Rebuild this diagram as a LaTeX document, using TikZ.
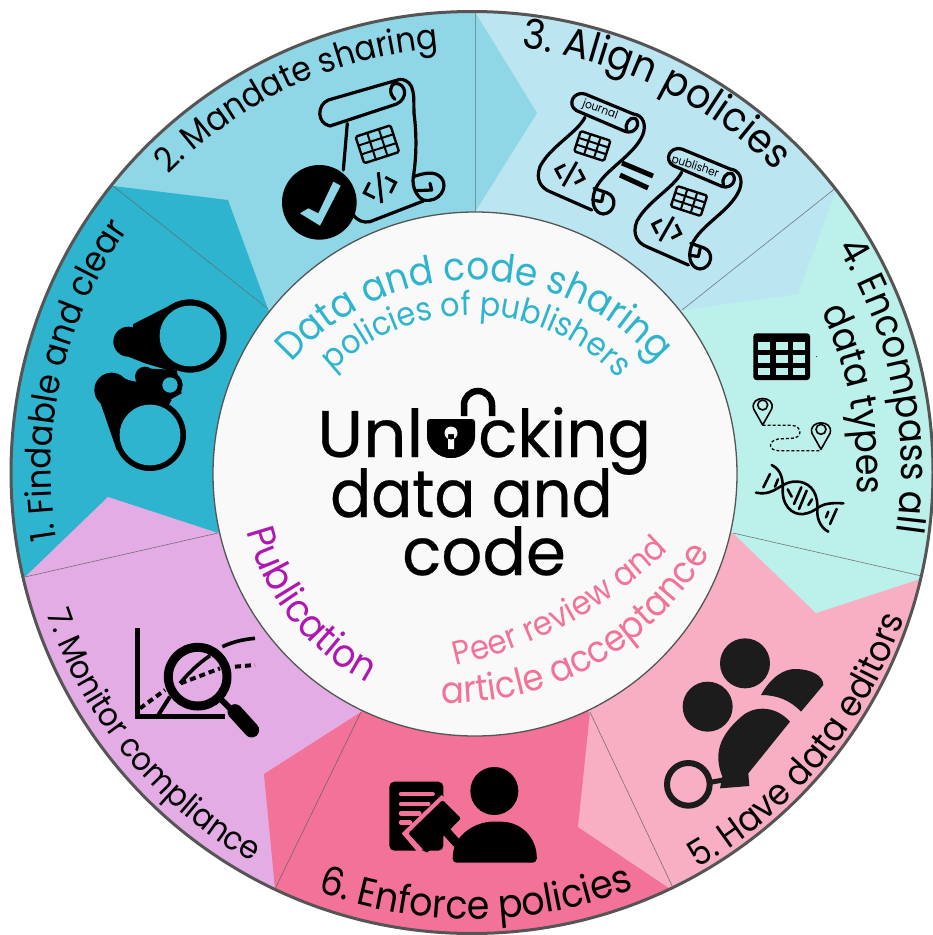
\documentclass[tikz,border=0pt]{standalone}
\usepackage{fontspec}
\usetikzlibrary{calc,decorations.text}
\newfontfamily\popf[FakeStretch=0.92]{Poppins}
\newfontfamily\poptitle[FakeStretch=0.92,FakeBold=0.4]{Poppins}
\definecolor{cA}{HTML}{2FB4CF}
\definecolor{cB}{HTML}{8FD6E6}
\definecolor{cC}{HTML}{BBE5F0}
\definecolor{cD}{HTML}{BCF0EA}
\definecolor{cE}{HTML}{F9AFC3}
\definecolor{cF}{HTML}{F27298}
\definecolor{cG}{HTML}{E4ACE4}
\definecolor{inner}{HTML}{F9F9F9}
\definecolor{rim}{HTML}{555555}
\definecolor{pub}{HTML}{AE17B0}
\definecolor{ink}{HTML}{1C1C1C}
\newcommand{\arctxt}[8]{\path[decorate,decoration={text along path,text align=center,text color=#7,
  text={|\fontsize{#6}{#6}\popf|#8}}]
  plot[domain=#4:#5,samples=90] ({#1+#3*cos(\x)},{#2+#3*sin(\x)});}
\tikzset{
 zm/.style 2 args={x=0.33333pt,y=-0.33333pt,shift={(#1pt,-#2pt)}},
 scroll/.style={line width=3.2pt,line cap=round,line join=round,draw=black},
 spoke/.style={draw=rim,line width=0.6pt,opacity=0.75},
 titletxt/.style={inner sep=0pt,anchor=base west,text=black,font=\fontsize{66}{66}\poptitle},
 fineline/.style={line width=1.6pt,draw=black},
}
\newcommand{\gridglyph}[2]{%
  \draw[line width=2.4pt,rounded corners=1.5pt,line join=round] (-#1,-#2) rectangle (#1,#2);
  \draw[line width=2pt] (-#1/3,-#2)--(-#1/3,#2) (#1/3,-#2)--(#1/3,#2) (-#1,-#2/3)--(#1,-#2/3) (-#1,#2/3)--(#1,#2/3);}
\newcommand{\codeglyph}{%
  \draw[line width=3pt,line cap=butt,line join=miter] (-13,-13)--(-26,0)--(-13,13) (13,-13)--(26,0)--(13,13) (5,-24)--(-5,24);}
\begin{document}
\begin{tikzpicture}[x=1pt,y=-1pt]
\useasboundingbox (0,0) rectangle (933,935);
\fill[white] (0,0) rectangle (933,935);
\coordinate (c) at (475,474);
\coordinate (a1) at (113,186); \coordinate (b1) at (268,309);
\coordinate (a2) at (475,12);  \coordinate (b2) at (475,212);
\coordinate (a3) at (837,187); \coordinate (b3) at (682,310);
\coordinate (a4) at (926,577); \coordinate (b4) at (733,533);
\coordinate (a5) at (675,892); \coordinate (b5) at (590,712);
\coordinate (a6) at (275,889); \coordinate (b6) at (361,712);
\coordinate (a7) at (25,577);  \coordinate (b7) at (218,533);
\begin{scope}
\clip (472,472.5) circle[radius=461];
\fill[cA] (c)--($(c)!1.3!(a7)$)--($(c)!1.3!(a1)$)--cycle;
\fill[cB] (c)--($(c)!1.3!(a1)$)--($(c)!1.3!(a2)$)--cycle;
\fill[cC] (c)--($(c)!1.3!(a2)$)--($(c)!1.3!(a3)$)--cycle;
\fill[cD] (c)--($(c)!1.3!(a3)$)--($(c)!1.3!(a4)$)--cycle;
\fill[cE] (c)--($(c)!1.3!(a4)$)--($(c)!1.3!(a5)$)--cycle;
\fill[cF] (c)--($(c)!1.3!(a5)$)--($(c)!1.3!(a6)$)--cycle;
\fill[cG] (c)--($(c)!1.3!(a6)$)--($(c)!1.3!(a7)$)--cycle;
\fill[cA] (a1)--(228,200)--(b1)--cycle;
\fill[cB] (a2)--(537,113)--(b2)--cycle;
\fill[cC] (a3)--(798,294)--(b3)--cycle;
\fill[cD] (b4)--(816,613)--(a4)--cycle;
\fill[cE] (b5)--(578,827)--(a5)--cycle;
\fill[cF] (b6)--(264,774)--(a6)--cycle;
\fill[cG] (a7)--(108,497)--(b7)--cycle;
\draw[spoke] (a1)--(b1) (a3)--(b3) (a4)--(b4) (a5)--(b5) (a6)--(b6) (a7)--(b7);
\draw[spoke,opacity=.5] (a2)--(b2);
\end{scope}
\draw[rim,line width=3pt] (472,472.5) circle[radius=461];
\draw[rim,fill=inner,line width=1.3pt] (c) circle[radius=262];

% ring labels (arcs run 8 degrees past the text at either end)
\arctxt{472}{472}{421}{164}{222}{35}{black}{1. Findable and clear}
\arctxt{472}{472}{425}{216}{274}{34.5}{black}{2. Mandate sharing}
\arctxt{472}{472}{427}{267}{325}{41}{black}{3. Align policies}
\arctxt{472}{472}{429}{320.5}{376}{38.5}{black}{4. Encompass all}
\arctxt{472}{472}{385}{327}{371.5}{38}{black}{data types}
\arctxt{472}{472}{456}{67.5}{11.5}{36}{black}{5. Have data editors}
\arctxt{472}{472}{447}{118}{61}{39.5}{black}{6. Enforce policies}
\arctxt{472}{472}{448}{170}{111}{32.5}{black}{7. Monitor compliance}
% inner labels
\arctxt{474}{522}{242}{206.8}{333.3}{39}{cA}{Data and code sharing}
\arctxt{472}{514}{199}{206.4}{336.6}{33}{cA}{policies of publishers}
\arctxt{475}{474}{235}{180}{103}{39}{pub}{Publication}
\arctxt{365}{245}{430}{87.3}{35.6}{33.5}{cF}{Peer review and}
\arctxt{450}{403}{300}{106.5}{15}{37}{cF}{article acceptance}

% title
\node[titletxt,xscale=1.12] (tU) at (317,457) {Unl};
\node[titletxt,xscale=1.06] (tK) at (478,457) {cking};
\node[titletxt] (tD) at (330,517) {data and};
\node[titletxt,xscale=1.06] (tC) at (402,575) {code};
\fill[black,rounded corners=3pt] (427,419) -- (475,419) -- (475,434) arc[start angle=0,end angle=180,radius=24] -- cycle;
\fill[black] (427,434) arc[start angle=180,end angle=0,radius=24] -- cycle;
\fill[inner] (451,433) circle[radius=6.5] (448,434) rectangle (454,449);
\draw[black,line width=6.5pt] (464,416) -- (464,405) arc[start angle=180,end angle=360,radius=14] -- (492,416);

% icon 1: binoculars
\begin{scope}[zm={0}{180}]
\fill[black] (570,468) circle[radius=110] (450,765) circle[radius=108] (385,485) circle[radius=45]
  (335,630) circle[radius=52] (510,615) circle[radius=38] (435,590) circle[radius=30];
\fill[black] (400,432)--(530,366)--(570,468)--(520,575)--(435,550)--(385,530)--cycle;
\fill[black] (300,665)--(350,810)--(450,765)--(515,660)--(430,610)--(385,600)--(335,578)--cycle;
\fill[black] (430,565)--(530,570)--(545,640)--(500,665)--(420,610)--cycle;
\fill[cA] (570,468) circle[radius=91] (450,765) circle[radius=91] (510,615) circle[radius=23];
\end{scope}

% icon 2: scroll with tick
\begin{scope}[zm={0}{0}]
\begin{scope}[scroll]
\draw (1200,238) -- (985,300) .. controls (950,315) and (950,370) .. (990,378) -- (1190,312) .. controls (1225,295) and (1220,250) .. (1185,250) .. controls (1170,255) and (1165,280) .. (1185,298);
\draw (1200,238) .. controls (1250,240) and (1240,300) .. (1242,340) .. controls (1250,400) and (1250,470) .. (1240,530) .. controls (1235,560) and (1250,590) .. (1270,600) .. controls (1320,610) and (1345,560) .. (1325,535) .. controls (1305,510) and (1270,520) .. (1240,530);
\draw (1250,572) -- (1295,570) -- (1290,550);
\draw (1270,603) -- (1110,665) .. controls (1090,670) and (1070,660) .. (1060,645);
\draw (1042,370) -- (1030,510);
\end{scope}
\fill[black] (958,607) circle[radius=112];
\fill[cB] (900,640)--(925,625)--(955,640)--(1000,545)--(1022,557)--(960,677)--cycle;
\begin{scope}[shift={(1132,433)},rotate=18]\gridglyph{55}{42}\end{scope}
\begin{scope}[shift={(1140,563)},rotate=18,scale=1.9]\codeglyph\end{scope}
\end{scope}

% icon 3: two scrolls
\foreach \sx/\sy in {470/0,566.7/55}{
\begin{scope}[zm={\sx}{\sy}]
\begin{scope}[scroll]
\draw (490,342) -- (345,282) .. controls (310,272) and (290,315) .. (320,332) -- (465,394) .. controls (495,405) and (515,370) .. (495,355) .. controls (480,348) and (462,375) .. (470,390);
\draw (490,342) .. controls (520,345) and (530,375) .. (518,405) .. controls (490,470) and (400,510) .. (375,570) .. controls (360,610) and (375,640) .. (400,642) .. controls (435,640) and (445,590) .. (410,578) -- (372,565);
\draw (368,600) -- (395,605) -- (400,582);
\draw (345,352) .. controls (320,400) and (240,440) .. (210,500) .. controls (195,540) and (215,565) .. (240,575) -- (365,630);
\end{scope}
\begin{scope}[shift={(367,438)},rotate=-18]\gridglyph{47}{32}\end{scope}
\begin{scope}[shift={(300,522)},rotate=-18,scale=1.7]\codeglyph\end{scope}
\end{scope}
}
\node[rotate=-20,inner sep=0pt,font=\fontsize{11.5}{12}\popf] (jr) at (600,110) {journal};
\node[rotate=-18,inner sep=0pt,font=\fontsize{11.5}{12}\popf] (pb) at (695,167) {publisher};
\draw[black,line width=5pt] (622,163)--(653,176) (620,175)--(648,188);

% icon 4
\begin{scope}[zm={620}{320}]
\fill[black,rounded corners=3pt] (400,40) rectangle (570,180);
\foreach \hx in {415,468,520}\foreach \hy in {67,105,143}{\fill[cD] (\hx,\hy) rectangle +(35,23);}
\fill[black] (590,110) circle[radius=1.5];
\foreach \px/\py in {428/255,603/328}{
\draw[fineline,line join=round] (\px,\py+60) -- (\px-27,\py+12) .. controls (\px-40,\py-30) and (\px+40,\py-30) .. (\px+27,\py+12) -- cycle;
\draw[fineline] (\px,\py) circle[radius=15];}
\draw[line width=1.3pt,densely dashed] (428,316) -- (515,316) .. controls (548,318) and (548,355) .. (515,355) -- (475,357) .. controls (442,362) and (445,392) .. (475,392) -- (603,392);
\begin{scope}[line width=2.6pt,line cap=round]
\draw (455,435) .. controls (485,450) and (490,480) .. (488,515) .. controls (490,570) and (530,590) .. (560,580) .. controls (600,570) and (590,545) .. (670,550);
\draw (408,518) .. controls (470,530) and (480,480) .. (535,485) .. controls (580,490) and (595,530) .. (592,570) .. controls (590,600) and (605,625) .. (625,635);
\draw (430,502)--(450,462) (465,500)--(474,478) (503,508)--(515,530) (522,552)--(544,502) (537,567)--(560,512) (565,555)--(576,538) (618,592)--(625,575) (630,612)--(650,567);
\end{scope}
\end{scope}

% icon 5
\begin{scope}[zm={560}{600}]
\fill[ink] (555,190) circle[radius=75] (443,320) circle[radius=75];
\fill[ink] (603,285) .. controls (630,235) and (670,205) .. (710,207) .. controls (750,208) and (790,225) .. (790,255) -- (723,335) .. controls (690,300) and (650,285) .. (603,285) -- cycle;
\fill[ink] (690,365) .. controls (650,320) and (590,315) .. (550,345) .. controls (490,395) and (455,450) .. (487,530) -- (480,565) -- (568,558) -- (565,520) -- cycle;
\draw[ink,line width=6pt] (385,553) circle[radius=64];
\draw[ink,line width=5pt] (450,547)--(490,540);
\end{scope}

% icon 6
\begin{scope}[zm={100}{600}]
\fill[black,rounded corners=5pt] (868,545) rectangle (1030,752);
\draw[cF,line width=4.5pt,line cap=round] (903,582)--(998,582) (903,612)--(985,612) (903,640)--(958,640) (903,668)--(930,668);
\fill[black] (1183,573) circle[radius=72];
\fill[black,rounded corners=4pt] (1058,788) -- (1310,788) .. controls (1312,720) and (1270,665) .. (1190,665) .. controls (1130,665) and (1070,700) .. (1058,765) -- cycle;
\draw[black,line width=9pt] (1035,690)--(1080,740);
\fill[cF] (1025,585)--(1040,600)--(960,765)--(905,700)--cycle;
\fill[black,rounded corners=2pt] (1028,600)--(1083,655)--(980,760)--(925,700)--cycle;
\end{scope}

% icon 7
\begin{scope}[zm={100}{600}]
\draw[black,line width=5pt,line cap=butt,line join=miter] (112,84)--(112,350)--(375,350);
\draw[black,line width=4pt] (175,345)--(210,290);
\draw[black,line width=3.6pt] (240,250) .. controls (265,220) and (295,190) .. (330,167);
\draw[black,line width=3.6pt] (367,140) .. controls (400,125) and (430,118) .. (465,115);
\draw[black,line width=4pt,dash pattern=on 6pt off 4pt] (120,325)--(195,270) (242,250)--(360,205) (405,200)--(465,195);
\draw[black,line width=9pt] (293,230) circle[radius=88];
\draw[black,line width=6pt] (360,295)--(395,330);
\draw[black,line width=15pt,line cap=round] (405,335)--(455,390);
\end{scope}
\end{tikzpicture}
\end{document}
